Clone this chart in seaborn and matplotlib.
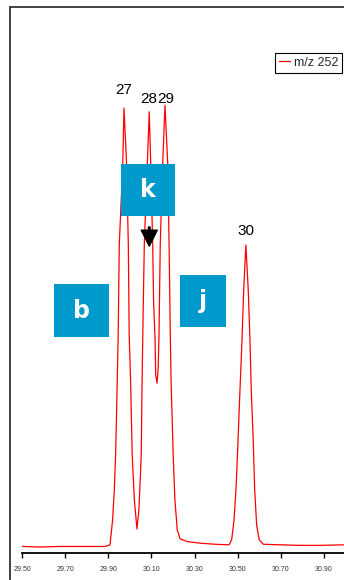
import numpy as np
import pandas as pd
import seaborn as sns
from matplotlib import pyplot as plt
from matplotlib.lines import Line2D
from matplotlib.patches import Rectangle

# retention time (min) and relative abundance (% of full scale)
rt = [29.500, 29.583, 29.676, 29.769, 29.838, 29.885, 29.908, 29.920, 29.928, 29.934,
      29.939, 29.946, 29.951, 29.967, 29.973, 29.985, 29.993, 29.997, 30.004, 30.011,
      30.021, 30.033, 30.042, 30.050, 30.053, 30.056, 30.060, 30.067, 30.081, 30.090,
      30.097, 30.106, 30.110, 30.117, 30.120, 30.126, 30.131, 30.135, 30.141, 30.152,
      30.163, 30.176, 30.182, 30.188, 30.191, 30.197, 30.201, 30.209, 30.220, 30.233,
      30.265, 30.325, 30.395, 30.460, 30.472, 30.483, 30.492, 30.500, 30.507,
      30.520, 30.528, 30.538, 30.549, 30.557, 30.563, 30.572, 30.579, 30.588,
      30.600, 30.619, 30.696, 30.789, 30.882, 30.993]
abund = [1.2, 1.1, 1.2, 1.2, 1.2, 1.2, 1.5, 6.0, 11.5, 17.9,
         26.6, 39.9, 56.4, 71.1, 81.5, 71.1, 56.4, 39.9, 30.8, 17.9,
         9.7, 4.4, 7.9, 15.2, 18.3, 28.9, 39.9, 56.4, 71.1, 80.8,
         71.1, 56.4, 46.3, 39.0, 32.6, 31.1, 33.5, 39.4, 56.4, 71.1,
         82.0, 71.1, 56.4, 39.0, 31.7, 23.4, 17.9, 9.7, 4.2, 2.6,
         2.1, 1.8, 1.6, 1.5, 2.4, 6.0, 11.5, 18.9, 26.2,
         39.0, 48.2, 56.4, 48.2, 39.0, 29.9, 20.7, 11.5, 5.1,
         2.4, 1.6, 1.5, 1.4, 1.4, 1.5]

peak_ids = ['27', '28', '29', '30']
peak_rt = [29.973, 30.089, 30.166, 30.538]
label_y = [83.5, 81.9, 81.9, 57.7]

box_labels = ['b', 'k', 'j']
tick_vals = [29.50, 29.70, 29.90, 30.10, 30.30, 30.50, 30.70, 30.90]

df = pd.DataFrame({'rt': rt, 'abund': abund})

sns.set_style('white')
narrow = ['Liberation Sans Narrow', 'Liberation Sans', 'DejaVu Sans']
plt.rcParams['font.family'] = narrow

W, H = 344, 580
fig = plt.figure(figsize=(W / 100, H / 100), dpi=100)
ax = fig.add_axes([22 / W, (H - 553) / H, 322 / W, 546 / H])

sns.lineplot(data=df, x='rt', y='abund', color='#ff0000', lw=0.9, ax=ax,
             label='m/z 252', sort=False)

ax.set_xlim(29.50, 30.993)
ax.set_ylim(0, 100)
for s in ['left', 'top', 'right']:
    ax.spines[s].set_visible(False)
ax.spines['bottom'].set_color('black')
ax.spines['bottom'].set_linewidth(1.3)
ax.set_xticks(tick_vals)
ax.set_xticklabels([f'{v:.2f}' for v in tick_vals], fontsize=5, color='#333333')
ax.tick_params(axis='x', bottom=True, length=3.5, width=1, color='black', pad=6)
ax.set_yticks([])
ax.set_xlabel('')
ax.set_ylabel('')

# peak numbers
for pid, x, y in zip(peak_ids, peak_rt, label_y):
    ax.text(x, y, pid, ha='center', va='bottom', fontsize=11, color='black')

# legend
leg = ax.legend(loc='upper right', bbox_to_anchor=(342 / W, 1 - 53 / H),
                bbox_transform=fig.transFigure, fancybox=False, framealpha=1,
                edgecolor='black', fontsize=9, handlelength=0.9, handletextpad=0.3,
                borderpad=0.3, borderaxespad=0)
leg.get_frame().set_linewidth(0.8)

# blue label boxes (pixel boxes in figure space)
boxes = [(54, 284, 109, 337), (121, 164, 175, 216), (180, 275, 226, 327)]
for lab, (x0, y0, x1, y1) in zip(box_labels, boxes):
    fig.add_artist(Rectangle((x0 / W, 1 - y1 / H), (x1 - x0) / W, (y1 - y0) / H,
                             transform=fig.transFigure, facecolor='#0099cc',
                             edgecolor='none', zorder=5))
    fig.text((x0 + x1) / 2 / W, 1 - (y0 + y1) / 2 / H, lab, ha='center', va='center',
             fontsize=17, fontweight='bold', color='white', family='DejaVu Sans', zorder=6)

# arrow under k
ax.annotate('', xy=(30.090, 56.2), xytext=(30.090, 59.7),
            arrowprops=dict(facecolor='black', edgecolor='black', width=1.2,
                            headwidth=11.5, headlength=11.5))

# outer frame: left and top edges
fig.add_artist(Line2D([10 / W, 10 / W], [0, 1 - 7 / H], color='#222222', lw=1.2))
fig.add_artist(Line2D([10 / W, 1], [1 - 7 / H, 1 - 7 / H], color='#222222', lw=1.2))

fig.savefig('out.png', dpi=100)
